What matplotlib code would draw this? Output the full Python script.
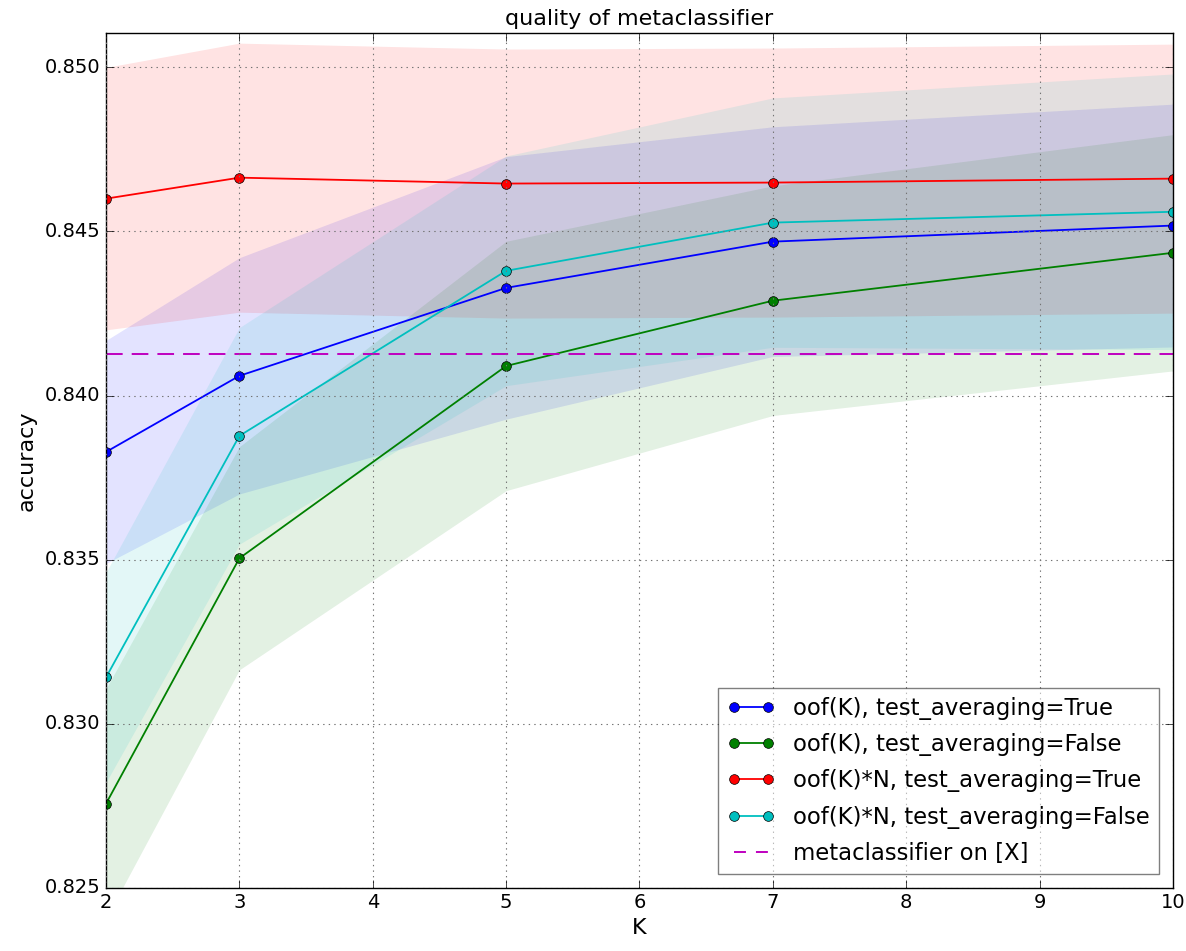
import matplotlib
matplotlib.use("Agg")
import matplotlib.pyplot as plt
from matplotlib.lines import Line2D
import numpy as np

plt.style.use("classic")

# number of folds
k_values = [2, 3, 5, 7, 10]

# mean accuracy and std over repeats
oof_avg_mean = [0.83828, 0.84060, 0.84328, 0.84469, 0.84518]
oof_avg_std = [0.0034, 0.0036, 0.0040, 0.0035, 0.0037]

oof_noavg_mean = [0.82756, 0.83504, 0.84090, 0.84289, 0.84435]
oof_noavg_std = [0.0035, 0.0034, 0.0038, 0.0035, 0.0036]

oofn_avg_mean = [0.84600, 0.84664, 0.84646, 0.84649, 0.84661]
oofn_avg_std = [0.0040, 0.0041, 0.0041, 0.0041, 0.0041]

oofn_noavg_mean = [0.83141, 0.83877, 0.84380, 0.84527, 0.84560]
oofn_noavg_std = [0.0032, 0.0033, 0.0035, 0.0038, 0.0042]

baseline_acc = 0.84127

series = [
    ("oof(K), test_averaging=True", oof_avg_mean, oof_avg_std, "b"),
    ("oof(K), test_averaging=False", oof_noavg_mean, oof_noavg_std, "g"),
    ("oof(K)*N, test_averaging=True", oofn_avg_mean, oofn_avg_std, "r"),
    ("oof(K)*N, test_averaging=False", oofn_noavg_mean, oofn_noavg_std, "c"),
]

fig = plt.figure(figsize=(11.86, 9.51), dpi=100, facecolor="white")
ax = fig.add_axes([0.0894, 0.0666, 0.8996, 0.8984])

for label, mean, std, color in series:
    mean = np.array(mean)
    std = np.array(std)
    ax.fill_between(k_values, mean - std, mean + std, color=color, alpha=0.11, linewidth=0)
    ax.plot(k_values, mean, "-o", color=color, label=label, linewidth=1.3,
            markersize=7, markeredgecolor="k", markeredgewidth=0.5)

ax.axhline(baseline_acc, color="m", linestyle="--", dashes=(12, 6.5), linewidth=1.4,
           label="metaclassifier on [X]")

ax.set_xlim(2, 10)
ax.set_ylim(0.825, 0.85104)
ax.set_yticks([0.825, 0.830, 0.835, 0.840, 0.845, 0.850])
ax.set_yticklabels(["0.825", "0.830", "0.835", "0.840", "0.845", "0.850"])
ax.grid(True, color="0.45", linestyle=":", linewidth=0.8)
ax.tick_params(labelsize=14, direction="in", length=6, top=True, right=True)

ax.set_title("quality of metaclassifier", fontsize=16, pad=6)
ax.set_xlabel("K", fontsize=16, labelpad=4)
ax.set_ylabel("accuracy", fontsize=16, labelpad=6)

# shorter dashes for the baseline entry so two dashes fit in the handle
handles, labels = ax.get_legend_handles_labels()
handles[-1] = Line2D([], [], color="m", linewidth=1.4, dashes=(8.6, 7.2))
leg = ax.legend(handles, labels, loc="lower right", fontsize=16.4, numpoints=2,
                framealpha=0.5, fancybox=False, handlelength=2.09,
                labelspacing=0.58, borderaxespad=0.6)

fig.savefig("out.png", dpi=100, facecolor="white")
